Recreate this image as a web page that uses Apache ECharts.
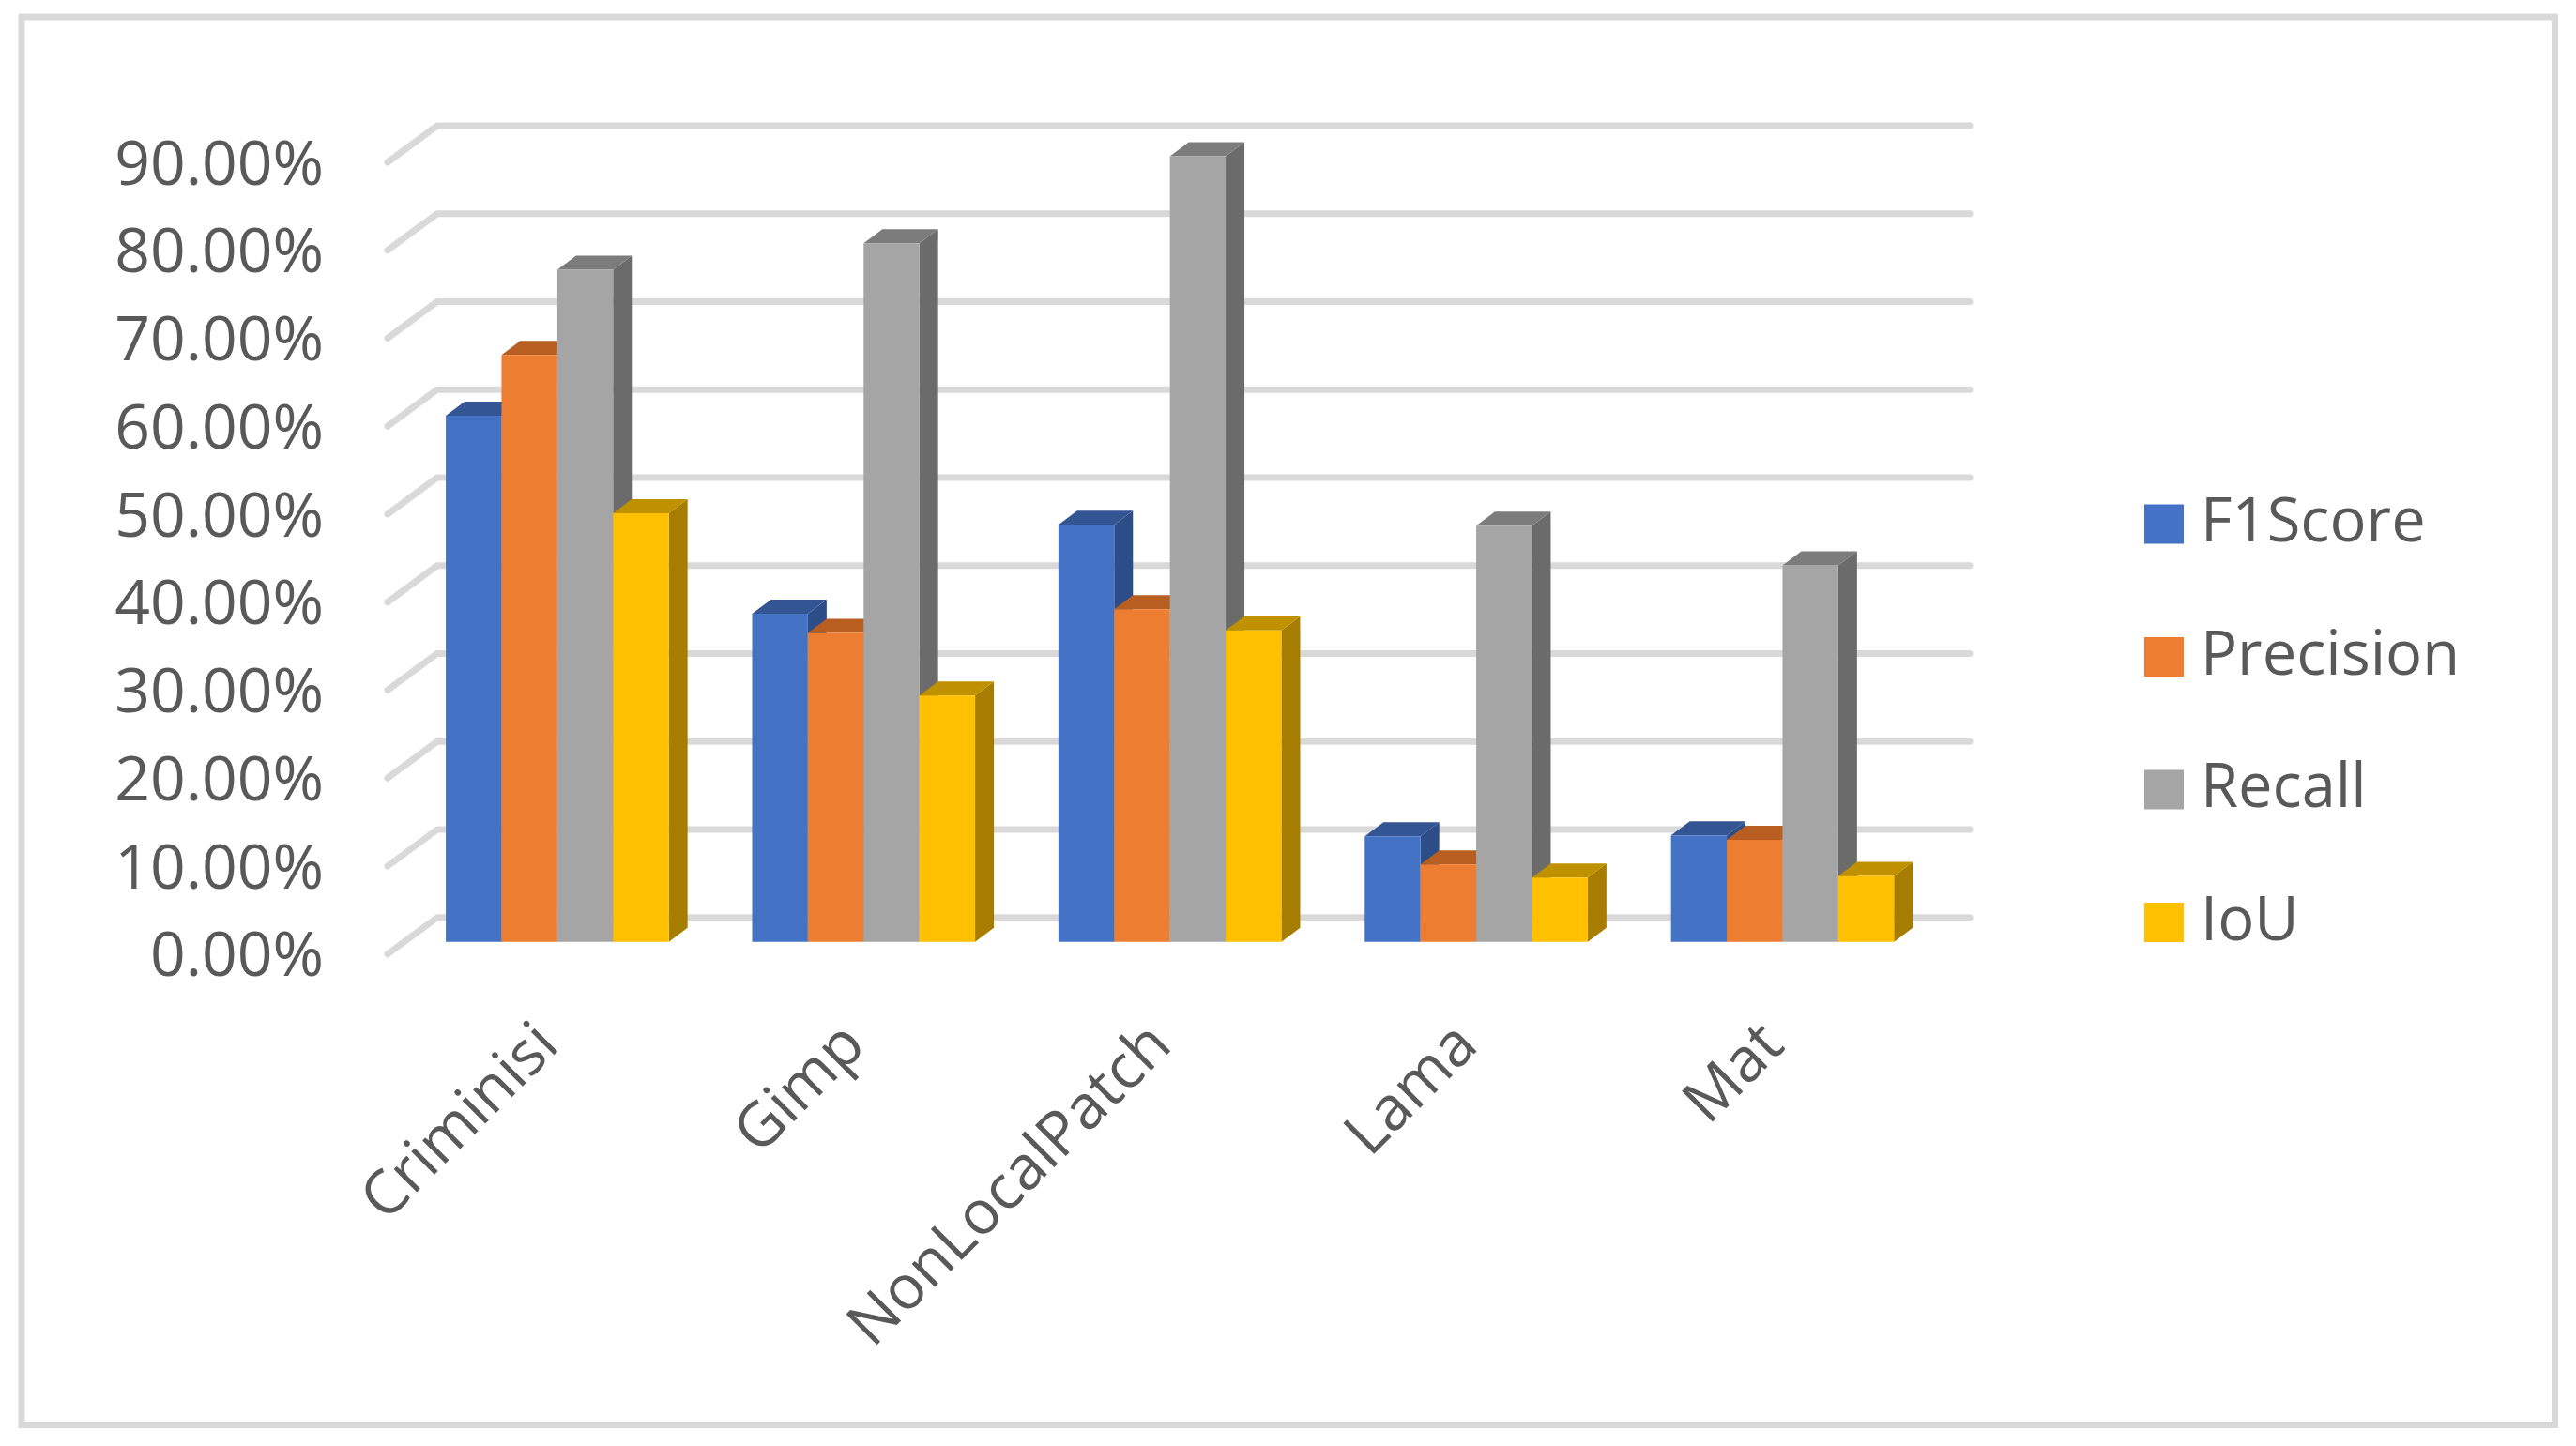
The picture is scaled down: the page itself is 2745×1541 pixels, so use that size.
<!DOCTYPE html>
<html>
<head>
<meta charset="utf-8">
<title>Inpainting metrics</title>
<script src="https://cdn.jsdelivr.net/npm/echarts@6/dist/echarts.min.js"></script>
<style>
  html, body { margin: 0; padding: 0; background: #fff; }
  #chart { width: 2745px; height: 1541px; }
</style>
</head>
<body>
<div id="chart"></div>
<script>
const categories = ['Criminisi', 'Gimp', 'NonLocalPatch', 'Lama', 'Mat'];
const f1Score = [59.8, 37.3, 47.4, 12.0, 12.1];
const precision = [66.7, 35.1, 37.8, 8.8, 11.6];
const recall = [76.4, 79.4, 89.3, 47.3, 42.8];
const iou = [48.7, 28.0, 35.4, 7.3, 7.5];
const yTicks = [0, 10, 20, 30, 40, 50, 60, 70, 80, 90];

// floor depth in pixels, from the front edge of the floor to the back wall
const FLOOR_DX = 53;
const FLOOR_DY = 39;
// bars stand a third of the way into the floor
const BAR_DEPTH_START = 1 / 3;
const BAR_DX = 20;
const BAR_DY = 15;
const BAR_W = 59.4;

const textColor = '#595959';
const fontFamily = '"Open Sans", "Noto Sans", sans-serif';

// one custom series per metric: front, top and side face of a 3d column
function barSeries(name, values, index, front, top, side) {
    return {
        name: name,
        type: 'custom',
        silent: true,
        itemStyle: { color: front },
        data: values.map((v, i) => [i, v]),
        encode: { x: 0, y: 1 },
        z: 3,
        renderItem(params, api) {
            const cat = api.value(0);
            const base = api.coord([cat, 0]);
            const head = api.coord([cat, api.value(1)]);
            const groupW = BAR_W * 4;
            const x0 = base[0] - groupW / 2 + index * BAR_W + FLOOR_DX * BAR_DEPTH_START;
            const x1 = x0 + BAR_W;
            const yb = base[1] - FLOOR_DY * BAR_DEPTH_START;
            const yt = head[1] - FLOOR_DY * BAR_DEPTH_START;
            return {
                type: 'group',
                children: [
                    {
                        type: 'polygon',
                        shape: { points: [[x1, yt], [x1 + BAR_DX, yt - BAR_DY], [x1 + BAR_DX, yb - BAR_DY], [x1, yb]] },
                        style: { fill: side }
                    },
                    {
                        type: 'polygon',
                        shape: { points: [[x0, yt], [x0 + BAR_DX, yt - BAR_DY], [x1 + BAR_DX, yt - BAR_DY], [x1, yt]] },
                        style: { fill: top }
                    },
                    {
                        type: 'rect',
                        shape: { x: x0, y: yt, width: BAR_W, height: yb - yt },
                        style: { fill: front }
                    }
                ]
            };
        }
    };
}

// gridlines run up the side wall and then across the back wall
const wallSeries = {
    name: 'wall',
    type: 'custom',
    silent: true,
    data: yTicks.map(v => [0, v]),
    encode: { y: 1 },
    z: 1,
    renderItem(params, api) {
        const y = api.coord([0, api.value(1)])[1];
        const left = params.coordSys.x;
        const right = left + params.coordSys.width;
        return {
            type: 'polyline',
            shape: { points: [[left, y], [left + FLOOR_DX, y - FLOOR_DY], [right + FLOOR_DX + 1, y - FLOOR_DY]] },
            style: { fill: 'none', stroke: '#d9d9d9', lineWidth: 7, lineCap: 'round', lineJoin: 'round' }
        };
    }
};

const myChart = echarts.init(document.getElementById('chart'), null, { renderer: 'canvas' });
const option = {
    animation: false,
    backgroundColor: '#fff',
    graphic: [{
        type: 'rect',
        silent: true,
        shape: { x: 23, y: 18, width: 2699.5, height: 1500.5 },
        style: { fill: 'none', stroke: '#d9d9d9', lineWidth: 7 }
    }],
    grid: { left: 413, top: 172.9, width: 1632, height: 843.8 },
    legend: {
        data: ['F1Score', 'Precision', 'Recall', 'IoU'],
        orient: 'vertical',
        left: 2285,
        top: 526,
        padding: 0,
        icon: 'rect',
        itemWidth: 42,
        itemHeight: 42,
        itemGap: 76.5,
        selectedMode: false,
        textStyle: {
            color: textColor,
            fontFamily: fontFamily,
            fontSize: 65,
            lineHeight: 42,
            padding: [6, 0, 0, 13]
        }
    },
    xAxis: {
        type: 'category',
        data: categories,
        axisLine: { show: false },
        axisTick: { show: false },
        axisLabel: {
            interval: 0,
            rotate: 45,
            margin: 78,
            align: 'right',
            verticalAlign: 'top',
            lineHeight: 25,
            color: textColor,
            fontFamily: fontFamily,
            fontSize: 65
        }
    },
    yAxis: {
        type: 'value',
        min: 0,
        max: 90,
        interval: 10,
        axisLine: { show: false },
        axisTick: { show: false },
        splitLine: { show: false },
        axisLabel: {
            margin: 68,
            verticalAlign: 'top',
            lineHeight: 10,
            color: textColor,
            fontFamily: fontFamily,
            fontSize: 66,
            formatter: v => v.toFixed(2) + '%'
        }
    },
    series: [
        wallSeries,
        barSeries('F1Score', f1Score, 0, '#4472c4', '#335593', '#2c4d88'),
        barSeries('Precision', precision, 1, '#ed7d31', '#b75e20', '#a0541f'),
        barSeries('Recall', recall, 2, '#a5a5a5', '#7c7c7c', '#6b6b6b'),
        barSeries('IoU', iou, 3, '#ffc000', '#bf9000', '#a67d00')
    ]
};
myChart.setOption(option);
</script>
</body>
</html>
